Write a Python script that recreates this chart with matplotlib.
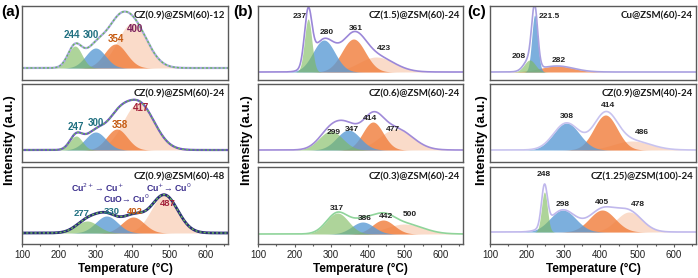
import numpy as np
import matplotlib
matplotlib.use("Agg")
import matplotlib.pyplot as plt
from matplotlib.ticker import MultipleLocator

# ---------------- data ----------------
temps_min, temps_max = 100, 660
xticks = [100, 200, 300, 400, 500, 600]

titles = [
    ["CZ(0.9)@ZSM(60)-12", "CZ(0.9)@ZSM(60)-24", "CZ(0.9)@ZSM(60)-48"],
    ["CZ(1.5)@ZSM(60)-24", "CZ(0.6)@ZSM(60)-24", "CZ(0.3)@ZSM(60)-24"],
    ["Cu@ZSM(60)-24", "CZ(0.9)@ZSM(40)-24", "CZ(1.25)@ZSM(100)-24"],
]
panel_letters = ["(a)", "(b)", "(c)"]

# peak centres (°C), heights (a.u.), widths (sigma, °C); component colour keys
a1_centers = [244, 300, 354, 400]; a1_heights = [22, 20, 24, 45]; a1_widths = [19, 27, 30, 40]
a2_centers = [247, 300, 358, 417]; a2_heights = [14, 18, 21, 47]; a2_widths = [17, 28, 28, 42]
a3_centers = [277, 330, 402, 487]; a3_heights = [12, 17, 16, 38]; a3_widths = [30, 30, 30, 36]
b1_centers = [237, 280, 361, 423]; b1_heights = [53, 32, 33, 15]; b1_widths = [10, 30, 32, 48]
b2_centers = [299, 347, 414, 477]; b2_heights = [19, 20, 28, 21]; b2_widths = [32, 32, 28, 45]
b3_centers = [317, 386, 442, 500]; b3_heights = [21, 12, 14, 10]; b3_widths = [30, 30, 30, 50]
c1_centers = [208, 221.5, 282];    c1_heights = [12, 57, 6];       c1_widths = [15, 8, 45]
c2_centers = [308, 414, 486];      c2_heights = [27, 35, 9];       c2_widths = [35, 32, 50]
c3_centers = [248, 298, 405, 478]; c3_heights = [40, 22, 22, 20];  c3_widths = [8, 35, 35, 35]

a_keys = ["green", "blue", "orange", "peach"]
c1_keys = ["green", "blue", "orange"]
c2_keys = ["blue", "orange", "peach"]

# label texts for the peaks
a1_labels = ["244", "300", "354", "400"]
a2_labels = ["247", "300", "358", "417"]
a3_labels = ["277", "330", "402", "487"]
b1_labels = ["237", "280", "361", "423"]
b2_labels = ["299", "347", "414", "477"]
b3_labels = ["317", "386", "442", "500"]
c1_labels = ["208", "221.5", "282"]
c2_labels = ["308", "414", "486"]
c3_labels = ["248", "298", "405", "478"]

# label anchor positions (x in °C, y in a.u.)
a1_lx = [236, 287, 355, 407]; a1_ly = [33, 33, 29, 39]
a2_lx = [247, 301, 366, 423]; a2_ly = [23, 27, 25, 42]
a3_lx = [263, 344, 407, 497]; a3_ly = [19, 22, 21, 30]
b1_lx = [215, 289, 368, 444]; b1_ly = [56, 40, 43, 24]
b2_lx = [308, 357, 406, 469]; b2_ly = [18, 21, 32, 21]
b3_lx = [316, 392, 450, 515]; b3_ly = [26, 15, 18, 20]
c1_lx = [179, 260, 288];      c1_ly = [15, 55, 11]
c2_lx = [309, 421, 513];      c2_ly = [34, 45, 18]
c3_lx = [247, 298, 404, 502]; c3_ly = [58, 28, 30, 28]

a_label_colors = ["#1f6f80", "#1f6f80", "#c55a11", "#7a1f5c"]
a23_label_colors = ["#1f6f80", "#1f6f80", "#c55a11", "#a3213a"]

a3_notes = ["Cu$^{2+}$→ Cu$^{+}$", "CuO→ Cu$^{0}$", "Cu$^{+}$→ Cu$^{0}$"]
a3_note_x = [304, 383, 500]
a3_note_y = [45, 34, 45]

# ---------------- style ----------------
fill_colors = {"green": ("#7dba5c", 0.62), "blue": ("#5b9bd5", 0.80),
               "orange": ("#f07c3a", 0.80), "peach": ("#f8c6a8", 0.62)}
draw_order = ["peach", "orange", "blue", "green"]

plt.rcParams["font.family"] = ["Liberation Sans", "DejaVu Sans"]

fig = plt.figure(figsize=(6.98, 2.78), dpi=100)
W, H = 698.0, 278.0
col_x = [(22, 228), (258, 463), (490, 696)]
row_y = [(6, 80), (84, 162), (167, 244)]
base_off = [[12, 12, 11], [8, 12, 10], [8, 12, 12]]

x = np.linspace(temps_min, temps_max, 1200)

def gauss(c, h, s):
    return h * np.exp(-0.5 * ((x - c) / s) ** 2)

panels = [
    [
        dict(c=a1_centers, h=a1_heights, w=a1_widths, k=a_keys, lab=a1_labels, lx=a1_lx, ly=a1_ly,
             lc=a_label_colors, fs=7, line=("#aaa6e2", 1.6), dots="#66bb55"),
        dict(c=a2_centers, h=a2_heights, w=a2_widths, k=a_keys, lab=a2_labels, lx=a2_lx, ly=a2_ly,
             lc=a23_label_colors, fs=7, line=("#6f55c4", 1.6), dots="#66bb55"),
        dict(c=a3_centers, h=a3_heights, w=a3_widths, k=a_keys, lab=a3_labels, lx=a3_lx, ly=a3_ly,
             lc=a23_label_colors, fs=6.8, line=("#2b2a7a", 2.0), dots="#66bb55"),
    ],
    [
        dict(c=b1_centers, h=b1_heights, w=b1_widths, k=a_keys, lab=b1_labels, lx=b1_lx, ly=b1_ly,
             lc=["#222222"] * 4, fs=6, line=("#9b87d8", 1.2), dots=None),
        dict(c=b2_centers, h=b2_heights, w=b2_widths, k=a_keys, lab=b2_labels, lx=b2_lx, ly=b2_ly,
             lc=["#222222"] * 4, fs=6, line=("#a08ad8", 1.2), dots=None),
        dict(c=b3_centers, h=b3_heights, w=b3_widths, k=a_keys, lab=b3_labels, lx=b3_lx, ly=b3_ly,
             lc=["#222222"] * 4, fs=6, line=("#8fd49a", 1.2), dots=None),
    ],
    [
        dict(c=c1_centers, h=c1_heights, w=c1_widths, k=c1_keys, lab=c1_labels, lx=c1_lx, ly=c1_ly,
             lc=["#222222"] * 3, fs=6, line=("#a9a0e0", 1.2), dots=None),
        dict(c=c2_centers, h=c2_heights, w=c2_widths, k=c2_keys, lab=c2_labels, lx=c2_lx, ly=c2_ly,
             lc=["#222222"] * 3, fs=6, line=("#c8c3ef", 1.2), dots=None),
        dict(c=c3_centers, h=c3_heights, w=c3_widths, k=a_keys, lab=c3_labels, lx=c3_lx, ly=c3_ly,
             lc=["#222222"] * 4, fs=6, line=("#c0b8ec", 1.2), dots=None),
    ],
]

for ci in range(3):
    x0, x1 = col_x[ci]
    for ri in range(3):
        y0, y1 = row_y[ri]
        ax = fig.add_axes([x0 / W, 1 - y1 / H, (x1 - x0) / W, (y1 - y0) / H])
        p = panels[ci][ri]
        comps = {}
        total = np.zeros_like(x)
        for c, h, s, key in zip(p["c"], p["h"], p["w"], p["k"]):
            g = gauss(c, h, s)
            comps.setdefault(key, []).append(g)
            total += g
        for key in draw_order:
            for g in comps.get(key, []):
                col, al = fill_colors[key]
                ax.fill_between(x, 0, g, color=col, alpha=al, lw=0)
        lc, lw = p["line"]
        ax.plot(x, total, color=lc, lw=lw, solid_capstyle="round")
        if p["dots"]:
            ax.plot(x, total, color=p["dots"], lw=1.0, ls=(0, (1.5, 1.5)))
        for t, tx, ty, tc in zip(p["lab"], p["lx"], p["ly"], p["lc"]):
            ax.text(tx, ty, t, fontsize=p["fs"], fontweight="bold", color=tc,
                    ha="center", va="center")
        off = base_off[ci][ri]
        ax.set_ylim(-off, (y1 - y0) - off)
        ax.set_xlim(temps_min, temps_max)
        ax.text(0.985, 0.87, titles[ci][ri], transform=ax.transAxes, ha="right", va="center",
                fontsize=7, fontweight="bold", color="#1a1a1a", family=["Lato", "DejaVu Sans"])
        ax.set_yticks([])
        for sp in ax.spines.values():
            sp.set_color("#5a5a5a")
            sp.set_linewidth(1.0)
        if ri == 2:
            ax.set_xticks(xticks)
            ax.xaxis.set_minor_locator(MultipleLocator(50))
            ax.tick_params(axis="x", which="major", length=2.5, width=0.8, colors="#5a5a5a",
                           labelcolor="#222222", labelsize=7, pad=2)
            ax.tick_params(axis="x", which="minor", length=1.5, width=0.8, colors="#5a5a5a")
            ax.set_xlabel("Temperature (°C)", fontsize=8.5, fontweight="bold", labelpad=2)
        else:
            ax.set_xticks([])
        if ci == 0 and ri == 2:
            for t, tx, ty in zip(a3_notes, a3_note_x, a3_note_y):
                ax.text(tx, ty, t, fontsize=6.3, fontweight="bold", color="#3a2d8c",
                        ha="center", va="center")

# y labels and panel letters
ylab_x = [10, 247, 482]
letter_x = [11, 243, 477]
for ci in range(3):
    fig.text(ylab_x[ci] / W, 1 - 140 / H, "Intensity (a.u.)", rotation=90, ha="center",
             va="center", fontsize=9.5, fontweight="bold")
    fig.text(letter_x[ci] / W, 1 - 12 / H, panel_letters[ci], ha="center", va="center",
             fontsize=11, fontweight="bold")

fig.savefig("out.png", dpi=100)
